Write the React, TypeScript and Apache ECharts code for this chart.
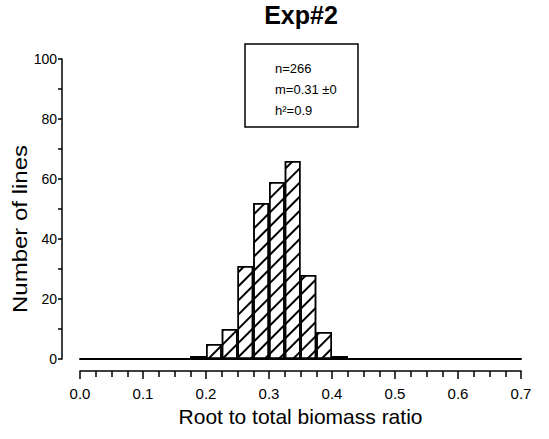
import React, { useEffect, useRef } from "react";
import * as echarts from "echarts";

const binLeft = [0.175, 0.2, 0.225, 0.25, 0.275, 0.3, 0.325, 0.35, 0.375, 0.4];
const counts = [1, 5, 10, 31, 52, 59, 66, 28, 9, 1];
const binWidth = 0.025;
const xTicks = [0, 0.1, 0.2, 0.3, 0.4, 0.5, 0.6, 0.7];
const yTicks = [0, 20, 40, 60, 80, 100];
const statLines = ["n=266", "m=0.31 \u00b10", "h\u00b2=0.9"];

const FONT = "'Liberation Sans', Arial, Helvetica, sans-serif";

export default function App() {
  const ref = useRef<HTMLDivElement>(null);
  useEffect(() => {
    if (!ref.current) return;
    const chart = echarts.init(ref.current, null, { renderer: "svg" });
    const W = 549;
    const gridLeft = 80;
    const gridRight = 28;
    const gridTop = 59;
    const gridBottom = 80;
    const plotW = W - gridLeft - gridRight;
    const xMax = xTicks[xTicks.length - 1];
    const barPx = (plotW * binWidth) / xMax;
    chart.setOption({
      animation: false,
      backgroundColor: "#fff",
      textStyle: { fontFamily: FONT },
      grid: { left: gridLeft, right: gridRight, top: gridTop, bottom: gridBottom },
      xAxis: [
        {
          type: "value",
          min: 0,
          max: xMax,
          position: "bottom",
          axisLine: { show: true, onZero: false, lineStyle: { color: "#000", width: 2 } },
          axisTick: { show: false },
          axisLabel: { show: false },
          splitLine: { show: false },
        },
        {
          type: "value",
          min: 0,
          max: xMax,
          interval: 0.1,
          position: "bottom",
          offset: 12,
          axisLine: { show: true, onZero: false, lineStyle: { color: "#000", width: 1.5 } },
          axisTick: { show: true, length: 8, lineStyle: { color: "#000", width: 1.5 } },
          minorTick: { show: true, splitNumber: 4, length: 6, lineStyle: { color: "#000", width: 1.5 } },
          axisLabel: {
            show: true,
            color: "#000",
            fontSize: 15,
            fontFamily: FONT,
            margin: 15,
            formatter: (v: number) => v.toFixed(1),
          },
          splitLine: { show: false },
          name: "Root to total biomass ratio",
          nameLocation: "middle",
          nameGap: 35,
          nameTextStyle: { color: "#000", fontSize: 21, fontFamily: FONT },
        },
      ],
      yAxis: {
        type: "value",
        min: 0,
        max: yTicks[yTicks.length - 1],
        interval: 20,
        offset: 18,
        axisLine: { show: true, onZero: false, lineStyle: { color: "#000", width: 1.5 } },
        axisTick: { show: true, length: 4, lineStyle: { color: "#000", width: 1.5 } },
        minorTick: { show: true, splitNumber: 2, length: 4, lineStyle: { color: "#000", width: 1.5 } },
        axisLabel: { color: "#000", fontSize: 14, fontFamily: FONT, margin: 5 },
        splitLine: { show: false },
      },
      graphic: [
        {
          type: "text",
          x: 301,
          y: 15,
          style: {
            text: "Exp#2",
            fill: "#000",
            font: `bold 25px ${FONT}`,
            textAlign: "center",
            textVerticalAlign: "middle",
          },
        },
        {
          type: "text",
          x: 20,
          y: 229,
          rotation: Math.PI / 2,
          scaleX: 1.2,
          style: {
            text: "Number of lines",
            fill: "#000",
            font: `20px ${FONT}`,
            textAlign: "center",
            textVerticalAlign: "middle",
          },
        },
        {
          type: "rect",
          shape: { x: 245, y: 44, width: 113, height: 83 },
          style: { fill: "#fff", stroke: "#000", lineWidth: 1.5 },
        },
        ...statLines.map((t, i) => ({
          type: "text",
          x: 275,
          y: 68 + i * 21,
          style: {
            text: t,
            fill: "#000",
            font: `13px ${FONT}`,
            textAlign: "left",
            textVerticalAlign: "middle",
          },
        })),
      ],
      series: [
        {
          type: "bar",
          xAxisIndex: 0,
          barWidth: barPx,
          data: binLeft.map((l, i) => [l + binWidth / 2, counts[i]]),
          itemStyle: {
            color: "#fff",
            borderColor: "#000",
            borderWidth: 1.5,
            decal: {
              symbol: "rect",
              symbolSize: 1,
              color: "#000",
              backgroundColor: "#fff",
              dashArrayX: [1, 0],
              dashArrayY: [1.4, 7.6],
              rotation: -Math.PI / 4,
            },
          },
        },
      ],
    });
    return () => chart.dispose();
  }, []);
  return (
    <div
      ref={ref}
      style={{ position: "fixed", left: 0, top: 0, width: 549, height: 439, background: "#fff" }}
    />
  );
}
